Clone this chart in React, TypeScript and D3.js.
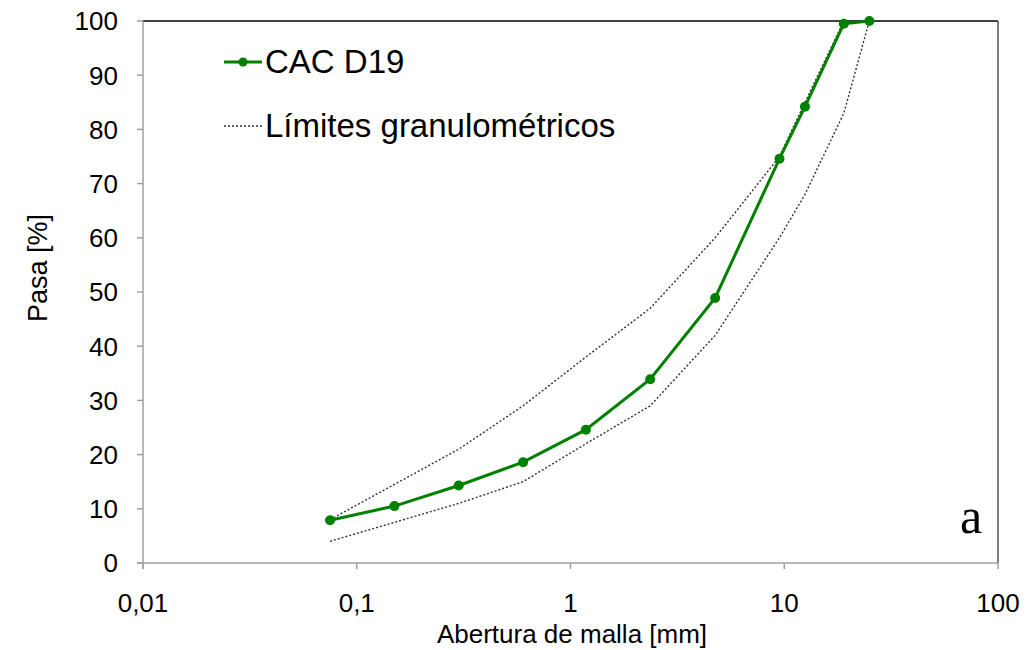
import React from "react";
import * as d3 from "d3";

const sieves = [0.075, 0.15, 0.3, 0.6, 1.18, 2.36, 4.75, 9.5, 12.5, 19, 25];
const cacD19 = [7.9, 10.5, 14.3, 18.6, 24.6, 33.9, 48.9, 74.6, 84.2, 99.5, 100];
const upperLimit = [8, 14.5, 21, 29, 38, 47, 60, 75, 85, 100, 100];
const lowerLimit = [4, 7.5, 11, 15, 22, 29, 42, 60, 68, 83, 100];
const xTicks = [0.01, 0.1, 1, 10, 100];
const xTickLabels = ["0,01", "0,1", "1", "10", "100"];
const yTicks = [0, 10, 20, 30, 40, 50, 60, 70, 80, 90, 100];

const W = 1032;
const H = 650;
const L = 143, R = 998, T = 21, B = 563;

export default function App() {
  const x = d3.scaleLog().domain([0.01, 100]).range([L, R]);
  const y = d3.scaleLinear().domain([0, 100]).range([B, T]);
  const line = d3
    .line<[number, number]>()
    .x((d) => x(d[0]))
    .y((d) => y(d[1]));
  const green = sieves.map((s, i) => [s, cacD19[i]] as [number, number]);
  const up = sieves.map((s, i) => [s, upperLimit[i]] as [number, number]);
  const lo = sieves.map((s, i) => [s, lowerLimit[i]] as [number, number]);
  const font = "Liberation Sans, Arial, sans-serif";
  return (
    <svg
      width={W}
      height={H}
      style={{ position: "absolute", left: 0, top: 0, background: "#fff" }}
    >
      {/* frame */}
      <line x1={L} y1={T} x2={R} y2={T} stroke="#000" strokeWidth={1.5} />
      <line x1={R} y1={T} x2={R} y2={B} stroke="#555" strokeWidth={1.5} />
      <line x1={L} y1={T} x2={L} y2={B + 6} stroke="#a0a0a0" strokeWidth={1.5} />
      <line x1={L - 6} y1={B} x2={R} y2={B} stroke="#a0a0a0" strokeWidth={1.5} />
      {yTicks.map((t) => (
        <g key={"y" + t}>
          <line x1={L - 6} x2={L} y1={y(t)} y2={y(t)} stroke="#a0a0a0" strokeWidth={1.5} />
          <text
            x={118}
            y={y(t)}
            dy="0.36em"
            textAnchor="end"
            fontFamily={font}
            fontSize={26}
            fill="#000"
          >
            {t}
          </text>
        </g>
      ))}
      {xTicks.map((t, i) => (
        <g key={"x" + t}>
          <line x1={x(t)} x2={x(t)} y1={B} y2={B + 6} stroke="#a0a0a0" strokeWidth={1.5} />
          <text
            x={x(t)}
            y={612}
            textAnchor="middle"
            fontFamily={font}
            fontSize={26}
            fill="#000"
          >
            {xTickLabels[i]}
          </text>
        </g>
      ))}
      <text
        x={572}
        y={643}
        textAnchor="middle"
        fontFamily={font}
        fontSize={26}
        fill="#000"
      >
        Abertura de malla [mm]
      </text>
      <text
        transform={`translate(47,268) rotate(-90)`}
        textAnchor="middle"
        fontFamily={font}
        fontSize={27}
        fill="#000"
      >
        Pasa [%]
      </text>
      {/* limits */}
      <path d={line(up) || ""} fill="none" stroke="#333" strokeWidth={1.4} strokeDasharray="2,2" />
      <path d={line(lo) || ""} fill="none" stroke="#333" strokeWidth={1.4} strokeDasharray="2,2" />
      {/* series */}
      <path d={line(green) || ""} fill="none" stroke="#008000" strokeWidth={3} />
      {green.map((d, i) => (
        <circle key={i} cx={x(d[0])} cy={y(d[1])} r={5} fill="#008000" />
      ))}
      {/* legend */}
      <line x1={224} x2={262} y1={62} y2={62} stroke="#008000" strokeWidth={3} />
      <circle cx={243} cy={62} r={4.5} fill="#008000" />
      <text x={265} y={73} fontFamily={font} fontSize={33} fill="#000">
        CAC D19
      </text>
      <line x1={224} x2={262} y1={126} y2={126} stroke="#333" strokeWidth={1.4} strokeDasharray="2,2" />
      <text x={265} y={137} fontFamily={font} fontSize={33} fill="#000">
        Límites granulométricos
      </text>
      <text x={960} y={533} fontFamily="Liberation Serif, Times New Roman, serif" fontSize={50} fill="#000">
        a
      </text>
    </svg>
  );
}
